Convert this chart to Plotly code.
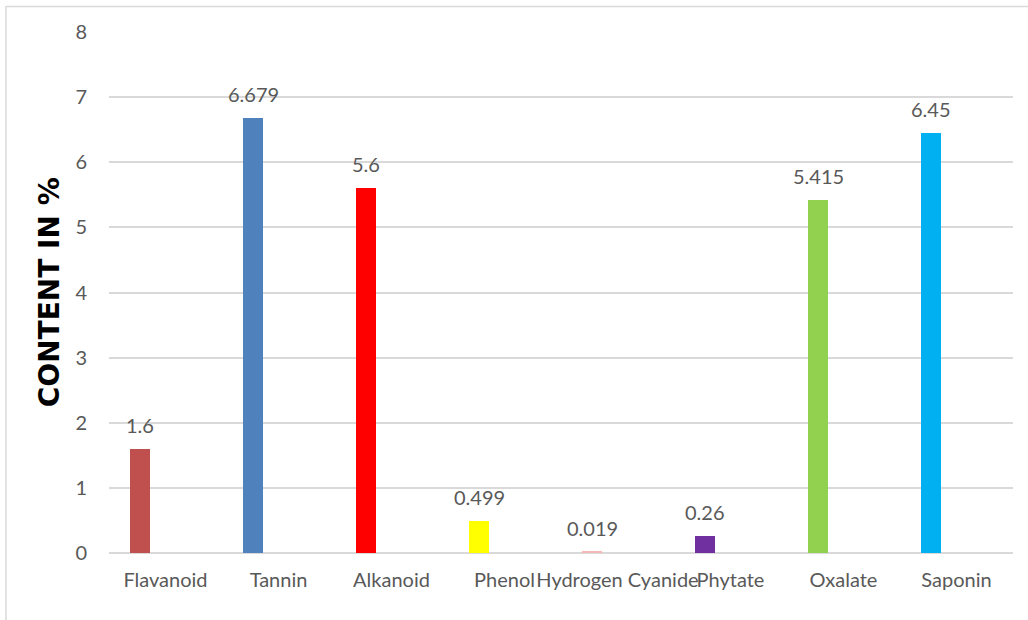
import plotly.graph_objects as go

# Phytochemical content of the sample (%)
categories = ["Flavanoid", "Tannin", "Alkanoid", "Phenol",
              "Hydrogen Cyanide", "Phytate", "Oxalate", "Saponin"]
content = [1.6, 6.679, 5.6, 0.499, 0.019, 0.26, 5.415, 6.45]
bar_colors = ["#C0504D", "#4F81BD", "#FF0000", "#FFFF00",
              "#F4B8B8", "#7030A0", "#92D050", "#00B0F0"]
y_ticks = [0, 1, 2, 3, 4, 5, 6, 7, 8]

label_font = dict(family="Lato, Carlito, Calibri, sans-serif", size=20, color="#595959")

BAR_OFFSET = -0.314   # left edge of each bar relative to its category centre
BAR_WIDTH = 0.177

fig = go.Figure()
fig.add_trace(go.Bar(
    x=categories,
    y=content,
    marker=dict(color=bar_colors, line=dict(width=0)),
    offset=BAR_OFFSET,
    width=BAR_WIDTH,
    hoverinfo="x+y",
))

# value labels above each bar, centred on the bar
bar_centre_shift = (BAR_OFFSET + BAR_WIDTH / 2) * 113
for cat, val in zip(categories, content):
    fig.add_annotation(
        x=cat, y=val, text=f"{val:g}", showarrow=False,
        xref="x", yref="y", yanchor="bottom",
        xshift=bar_centre_shift, yshift=10,
        font=label_font,
    )

# y-axis title
fig.add_annotation(
    text="<b>CONTENT IN %</b>", textangle=-90, showarrow=False,
    xref="paper", yref="paper", x=-0.065, y=0.501,
    xanchor="center", yanchor="middle",
    font=dict(family="DejaVu Sans, Arial Black, sans-serif", size=28, color="#000000"),
)

# chart frame
fig.add_shape(
    type="rect", xref="paper", yref="paper",
    x0=(6 - 109) / 904, x1=(1040 - 109) / 904,
    y0=-(640 - 553) / 521, y1=1 + (32 - 6.5) / 521,
    line=dict(color="#D9D9D9", width=1.5), fillcolor="rgba(0,0,0,0)", layer="below",
)

fig.update_layout(
    width=1028, height=620,
    margin=dict(l=109, r=15, t=32, b=67, autoexpand=False),
    paper_bgcolor="white", plot_bgcolor="white",
    showlegend=False,
    bargap=0,
    xaxis=dict(
        type="category", showgrid=False, showline=False, zeroline=False,
        ticks="", tickfont=label_font, ticklabelstandoff=13, tickangle=0,
        automargin=False,
        range=[-0.5, len(categories) - 0.5],
    ),
    yaxis=dict(
        range=[0, 8], tickvals=y_ticks, showgrid=True,
        gridcolor="#D9D9D9", gridwidth=1.5,
        zeroline=True, zerolinecolor="#D9D9D9", zerolinewidth=1.5,
        showline=False, ticks="", tickfont=label_font, ticklabelstandoff=21,
        automargin=False,
    ),
)

fig.write_html("out.html")
